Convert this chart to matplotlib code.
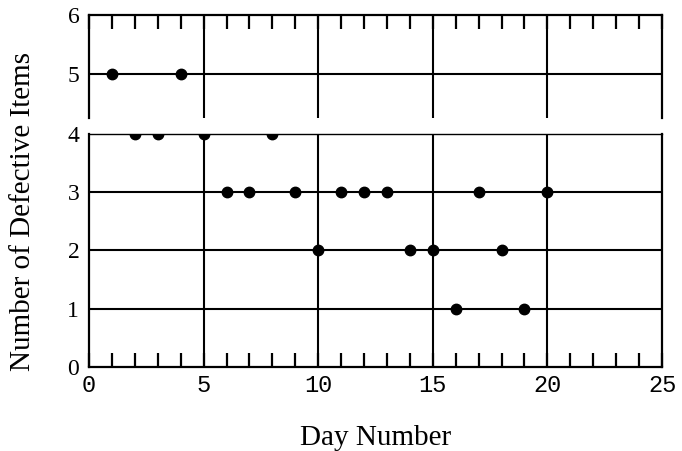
import numpy as np
import matplotlib
matplotlib.use("Agg")
from matplotlib import pyplot as plt

days = [1, 2, 3, 4, 5, 6, 7, 8, 9, 10, 11, 12, 13, 14, 15, 16, 17, 18, 19, 20]
defects = [5, 4, 4, 5, 4, 3, 3, 4, 3, 2, 3, 3, 3, 2, 2, 1, 3, 2, 1, 3]

x_major = [0, 5, 10, 15, 20, 25]
y_top_ticks = [5, 6]
y_bot_ticks = [0, 1, 2, 3, 4]

fig = plt.figure(figsize=(6.82, 4.51), dpi=100)
ax_top = fig.add_axes([0.1305, 0.7384, 0.8402, 0.2283])
ax_bot = fig.add_axes([0.1305, 0.1863, 0.8402, 0.5166])

serif = "Liberation Serif"
mono = "Liberation Mono"

for ax in (ax_top, ax_bot):
    ax.set_xlim(0, 25)
    ax.set_xticks(x_major)
    ax.set_xticks(range(0, 26), minor=True)
    for x in x_major[1:-1]:
        ax.axvline(x, color="black", lw=1.5, zorder=1)
    ax.plot(days, defects, "o", color="black", markersize=7.5, zorder=3, clip_on=True)
    for s in ax.spines.values():
        s.set_linewidth(1.6)
    ax.tick_params(axis="y", length=0, pad=7)

ax_top.set_ylim(4.25, 6)
ax_top.set_yticks(y_top_ticks)
ax_top.axhline(5, color="black", lw=1.5, zorder=1)
ax_top.spines["bottom"].set_visible(False)
ax_top.tick_params(axis="x", which="both", bottom=False, top=True, labelbottom=False,
                   direction="in", length=10, width=1.6)
ax_top.set_yticklabels([str(v) for v in y_top_ticks], fontfamily=serif, fontsize=17)

ax_bot.set_ylim(0, 4)
ax_bot.set_yticks(y_bot_ticks)
for y in y_bot_ticks[1:-1]:
    ax_bot.axhline(y, color="black", lw=1.5, zorder=1)
ax_bot.spines["top"].set_linewidth(1.0)
ax_bot.tick_params(axis="x", which="both", direction="in", length=10, width=1.6, pad=5)
ax_bot.set_yticklabels([str(v) for v in y_bot_ticks], fontfamily=serif, fontsize=17)
ax_bot.set_xticklabels([str(v) for v in x_major], fontfamily=mono, fontsize=17)
ax_bot.set_xlabel("Day Number", fontfamily=serif, fontsize=21, labelpad=20)

fig.text(0.034, 0.53, "Number of Defective Items", rotation=90, ha="center", va="center",
         fontfamily=serif, fontsize=21)

fig.savefig("out.png", dpi=100)
